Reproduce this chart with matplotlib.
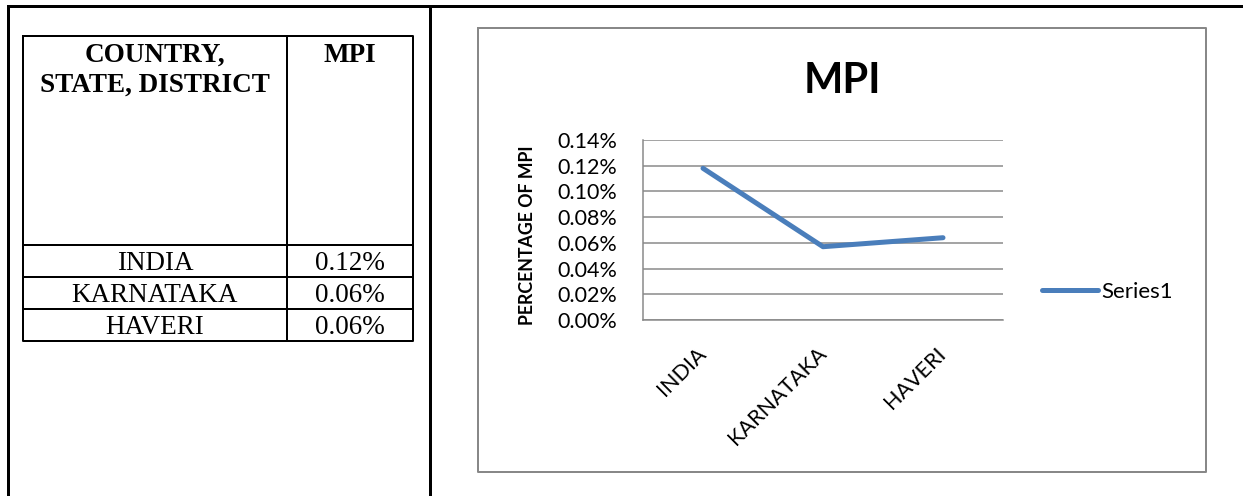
import numpy as np
import matplotlib
matplotlib.use("Agg")
import matplotlib.pyplot as plt

# MPI share by region
regions = ["INDIA", "KARNATAKA", "HAVERI"]
mpi_pct = [0.118, 0.057, 0.064]
header = ["COUNTRY,", "STATE, DISTRICT"]
value_header = "MPI"
series_name = "Series1"
y_ticks = [0.00, 0.02, 0.04, 0.06, 0.08, 0.10, 0.12, 0.14]

W, H = 1243, 496
fig = plt.figure(figsize=(W / 100, H / 100), dpi=100)

# page layer in pixel coordinates for the document table and frames
page = fig.add_axes([0, 0, 1, 1])
page.set_xlim(0, W)
page.set_ylim(H, 0)
page.axis("off")

px = 0.72  # one pixel in points
serif = ["Liberation Serif", "DejaVu Serif"]
sans = "Lato"

# outer document table borders
page.plot([8, W], [6, 6], color="black", lw=3 * px)
page.plot([8, 8], [6, H], color="black", lw=3 * px)
page.plot([430, 430], [6, H], color="black", lw=3 * px)

# inner data table
tl, tr, tc = 23, 413, 287
rows = [245, 277, 309, 341]
page.plot([tl, tr, tr, tl, tl], [36, 36, rows[-1], rows[-1], 36], color="black", lw=2 * px)
page.plot([tc, tc], [36, rows[-1]], color="black", lw=2 * px)
for r in rows[:-1]:
    page.plot([tl, tr], [r, r], color="black", lw=2 * px)

c1 = (tl + tc) / 2
c2 = (tc + tr) / 2
for i, line in enumerate(header):
    page.text(c1, 62 + 30 * i, line, ha="center", va="baseline",
              fontsize=19.5, fontweight="bold", family=serif)
page.text(c2, 62, value_header, ha="center", va="baseline",
          fontsize=19.5, fontweight="bold", family=serif)
for i, (name, val) in enumerate(zip(regions, mpi_pct)):
    yb = rows[i] + 25
    page.text(c1, yb, name, ha="center", va="baseline", fontsize=19.5, family=serif)
    page.text(c2, yb, f"{val:.2f}%", ha="center", va="baseline", fontsize=19.5, family=serif)

# chart frame
page.plot([478, 1206, 1206, 478, 478], [28, 28, 472, 472, 28], color="#888888", lw=2 * px)
page.text(842, 93, "MPI", ha="center", va="baseline", fontsize=30,
          fontweight="bold", family=sans)

# line chart
ax = fig.add_axes([643 / W, 1 - 320 / H, 360 / W, 180 / H])
x = np.arange(len(regions))
ax.plot(x, mpi_pct, color="#4A7EBB", lw=3.6, solid_capstyle="round", label=series_name)
ax.set_xlim(-0.5, len(regions) - 0.5)
ax.set_ylim(y_ticks[0], y_ticks[-1])
ax.set_yticks(y_ticks)
ax.set_yticklabels([f"{v:.2f}%" for v in y_ticks], family=sans, fontsize=15.5)
ax.set_xticks(x)
ax.set_xticklabels(regions, rotation=45, ha="right", va="center",
                   rotation_mode="anchor", family=sans, fontsize=15.5)
ax.tick_params(axis="y", length=0, pad=18.5)
ax.tick_params(axis="x", length=0, pad=22)
ax.grid(axis="y", color="#888888", lw=1.5 * px)
ax.set_axisbelow(True)
for side in ["top", "right"]:
    ax.spines[side].set_visible(False)
for side in ["left", "bottom"]:
    ax.spines[side].set_color("#888888")
    ax.spines[side].set_linewidth(1.5 * px)

ax.text(-0.322, 0.47, "PERCENTAGE OF MPI", transform=ax.transAxes, rotation=90,
        ha="center", va="center", fontsize=12.8, fontweight="bold", family=sans)

ax.legend(loc="center left", bbox_to_anchor=(1042 / W, 1 - 292 / H),
          bbox_transform=fig.transFigure, frameon=False, borderpad=0,
          borderaxespad=0, handlelength=2.5, handletextpad=0.15,
          prop={"family": sans, "size": 16})

fig.savefig("out.png", dpi=100)
